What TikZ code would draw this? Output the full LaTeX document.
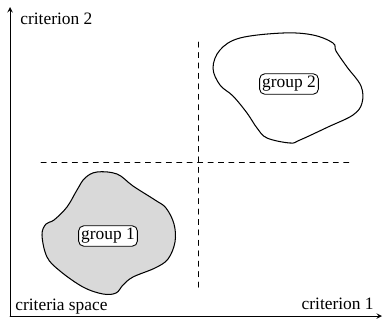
\documentclass[tikz,border=0pt]{standalone}
\usepackage{fontspec}
\setmainfont{Liberation Serif}
\begin{document}
\begin{tikzpicture}[line join = round, line cap = round,>=stealth,x=0.575pt,y=-0.575pt,
  grouplabel/.style={draw,rounded corners=3pt,fill=white,inner sep=1.5pt,line width=0.5pt},
  blob/.style={line width=0.6pt},
  axislabel/.style={inner sep=0pt}]
\useasboundingbox (0,0) rectangle (383,323);
\coordinate (O) at (10,316);
\coordinate (ytop) at (10,7);
\coordinate (xend) at (382,316);
\draw[->] (O)--(ytop);
\draw[->] (O)--(xend);
\node[axislabel,anchor=base west] (c2) at (20,25) {criterion 2};
\node[axislabel,anchor=base west] (cs) at (15,310) {criteria space};
\node[axislabel,anchor=base east] (c1) at (374,309) {criterion 1};
\coordinate (vtop) at (198,42);
\coordinate (vbot) at (198,288);
\coordinate (hleft) at (41,162);
\coordinate (hright) at (353,162);
\draw[dashed] (vtop)--(vbot) (hleft)--(hright);
\draw[blob,fill=black!15] plot[smooth cycle,tension=0.6] coordinates {
  (97,172) (117,174) (133,186) (155,200) (166,208) (174,224) (175,242) (168,259)
  (155,268) (133,277) (123,285) (116,293) (103,294) (83,287) (60,271) (47,257)
  (42,235) (46,224) (54,220) (67,207) (77,190) (85,178)};
\draw[blob] plot[smooth cycle,tension=0.6] coordinates {
  (213,68) (220,50) (240,38) (283,33) (313,35) (333,43) (336,51) (347,67)
  (361,86) (362,103) (353,115) (328,127) (300,140) (290,143) (267,138) (257,128)
  (247,113) (233,96) (220,85)};
\node[grouplabel] (g1) at (108,236) {group 1};
\node[grouplabel] (g2) at (289,84) {group 2};
\end{tikzpicture}
\end{document}
